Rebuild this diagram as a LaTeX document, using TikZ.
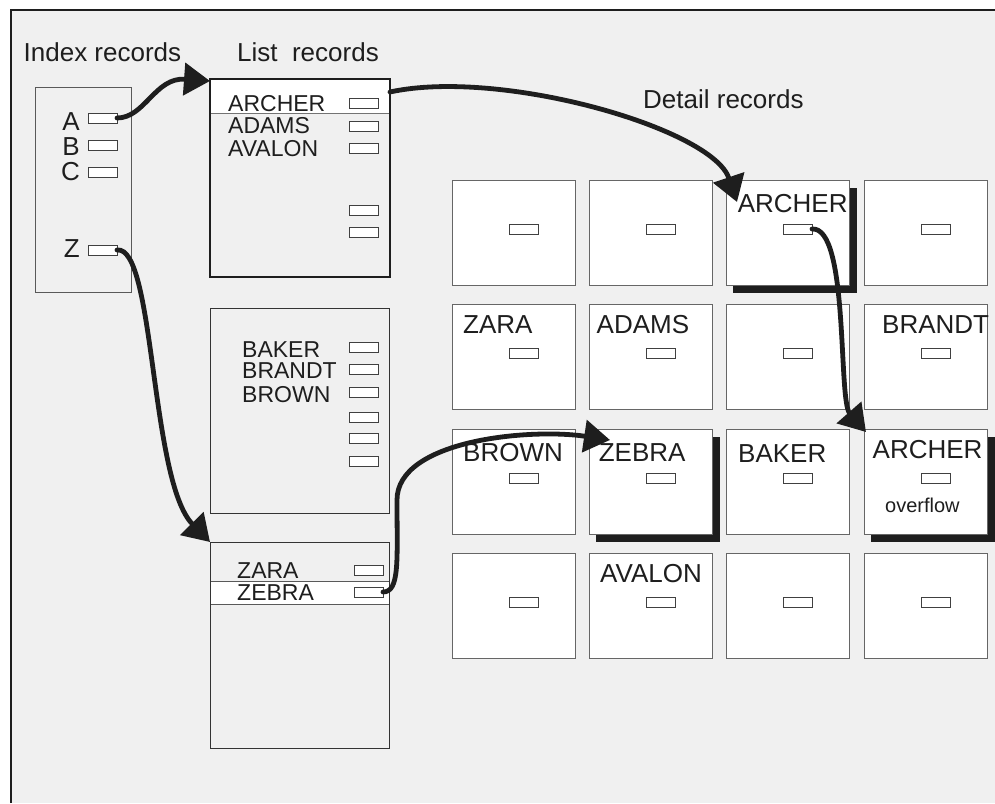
\documentclass[tikz,border=0pt]{standalone}
\usepackage{fontspec}
\setmainfont{Liberation Sans}
\usetikzlibrary{arrows.meta,shadows}
\definecolor{bg}{HTML}{F0F0F0}
\definecolor{ink}{HTML}{1E1E1E}
\begin{document}
\begin{tikzpicture}[x=1pt,y=-1pt,
  hdr/.style={font=\fontsize{26}{28}\selectfont, text=ink, inner sep=0pt, anchor=base west},
  lbl/.style={font=\fontsize{23}{24}\selectfont, text=ink, inner sep=0pt, anchor=base west},
  small/.style={font=\fontsize{20}{22}\selectfont, text=ink, inner sep=0pt, anchor=base west},
  slot/.style={draw=black!75, fill=white, line width=0.9pt, minimum width=29pt, minimum height=10pt, inner sep=0pt, outer sep=0pt, anchor=north west},
  dbox/.style={draw=black!60, fill=white, line width=1pt, minimum width=123.5pt, minimum height=105pt, inner sep=0pt, outer sep=0pt, anchor=north west},
  lbox/.style={draw=black!80, line width=1pt, inner sep=0pt, outer sep=0pt, anchor=north west},
  shd/.style={general shadow={fill=ink, shadow xshift=7pt, shadow yshift=-8pt}},
  link/.style={line width=4.8pt, draw=ink, line cap=round, -{Triangle[length=26pt,width=32pt]}},
]
\useasboundingbox (0,0) rectangle (995,803);
\fill[white] (0,0) rectangle (995,803);
\fill[bg] (11,10) rectangle (995,803);
\draw[ink, line width=1.4pt] (11,803) -- (11,10) -- (995,10);

% headings
\node[hdr] (hidx) at (23.5,61) {Index records};
\node[hdr] (hlist) at (237,61) {List\ \ records};
\node[hdr] (hdet) at (643,108) {Detail records};

% index box
\node[lbox, draw=black!65, minimum width=96pt, minimum height=205pt] (idx) at (35,87) {};
\node[hdr, anchor=base east] (ta) at (80,130) {A};
\node[hdr, anchor=base east] (tb) at (80,155) {B};
\node[hdr, anchor=base east] (tc) at (80,180) {C};
\node[hdr, anchor=base east] (tz) at (80,257) {Z};
\node[slot] (ia) at (88,113) {};
\node[slot] (ib) at (88,140) {};
\node[slot] (ic) at (88,167) {};
\node[slot] (iz) at (88,245) {};

% list box 1
\fill[white] (210,79) rectangle (390,113);
\draw[black!55, line width=0.8pt] (210,113) -- (390,113);
\node[lbox, draw=ink, line width=1.6pt, minimum width=180pt, minimum height=198pt] (l1) at (210,79) {};
\node[lbl] (l1a) at (228,111) {ARCHER};
\node[lbl] (l1b) at (228,133) {ADAMS};
\node[lbl] (l1c) at (228,156) {AVALON};
\node[slot] (s1a) at (349,98) {};
\node[slot] (s1b) at (349,121) {};
\node[slot] (s1c) at (349,143) {};
\node[slot] (s1d) at (349,205) {};
\node[slot] (s1e) at (349,227) {};

% list box 2
\node[lbox, minimum width=179pt, minimum height=205pt] (l2) at (210,308) {};
\node[lbl] (l2a) at (242,357) {BAKER};
\node[lbl] (l2b) at (242,378) {BRANDT};
\node[lbl] (l2c) at (242,402) {BROWN};
\node[slot] (s2a) at (349,342) {};
\node[slot] (s2b) at (349,364) {};
\node[slot] (s2c) at (349,387) {};
\node[slot] (s2d) at (349,412) {};
\node[slot] (s2e) at (349,433) {};
\node[slot] (s2f) at (349,456) {};

% list box 3
\fill[white] (210,581) rectangle (389,604);
\draw[black!65, line width=0.8pt] (210,581) -- (389,581) (210,604) -- (389,604);
\node[lbox, minimum width=179pt, minimum height=206pt] (l3) at (210,542) {};
\node[lbl] (l3a) at (237,578) {ZARA};
\node[lbl] (l3b) at (237,600) {ZEBRA};
\node[slot] (s3a) at (354,565) {};
\node[slot] (s3b) at (354,587) {};

% detail records grid
\node[dbox] (d11) at (452,180) {};
\node[dbox] (d12) at (589,180) {};
\node[dbox, shd] (d13) at (726,180) {};
\node[dbox] (d14) at (864,180) {};
\node[dbox] (d21) at (452,304) {};
\node[dbox] (d22) at (589,304) {};
\node[dbox] (d23) at (726,304) {};
\node[dbox] (d24) at (864,304) {};
\node[dbox] (d31) at (452,429) {};
\node[dbox, shd] (d32) at (589,429) {};
\node[dbox] (d33) at (726,429) {};
\node[dbox, shd] (d34) at (864,429) {};
\node[dbox] (d41) at (452,553) {};
\node[dbox] (d42) at (589,553) {};
\node[dbox] (d43) at (726,553) {};
\node[dbox] (d44) at (864,553) {};
\foreach \r in {1,2,3,4}{
  \foreach \c in {1,2,3,4}{
    \node[slot] (s\r\c) at ([shift={(57,44)}]d\r\c.north west) {};
  }
}
\node[hdr] (t13) at (737.6,212) {ARCHER};
\node[hdr] (t21) at (463,333) {ZARA};
\node[hdr] (t22) at (596.5,333) {ADAMS};
\node[hdr] (t24) at (882,333) {BRANDT};
\node[hdr] (t31) at (463,461) {BROWN};
\node[hdr] (t32) at (598.6,461) {ZEBRA};
\node[hdr] (t33) at (738,462) {BAKER};
\node[hdr] (t34) at (872.5,458) {ARCHER};
\node[small] (o34) at (885,512) {overflow};
\node[hdr] (t42) at (600,582) {AVALON};

% connectors
\draw[link] (ia.east) .. controls +(28,0) and +(-55,-4) .. ([shift={(0,2)}]l1.north west);
\draw[link] ([shift={(0,13)}]l1.north east) .. controls (500,68) and (712,128) .. ([shift={(11,22)}]d13.north west);
\draw[link] (s13.east) .. controls +(37,-3) and +(-28,-32) .. ([shift={(2,3)}]d34.north west);
\draw[link] (iz.east) .. controls +(38,-5) and +(-60,-61) .. (l3.north west);
\draw[link] (s3b.east) .. controls +(17,0) and +(0,60) .. (397,500) .. controls +(0,-60) and +(-80,-12) .. ([shift={(21,11)}]d32.north west);
\end{tikzpicture}
\end{document}
